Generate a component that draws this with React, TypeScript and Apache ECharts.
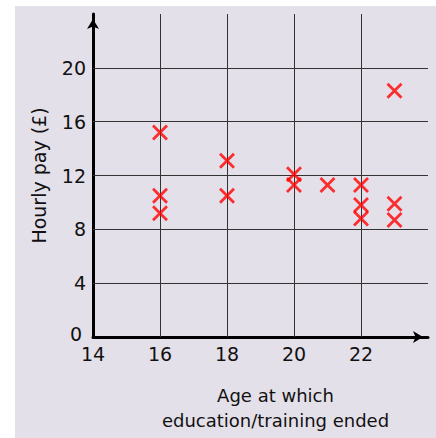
import React, { useEffect, useRef } from "react";
import * as echarts from "echarts";

const ages = [16, 16, 16, 18, 18, 20, 20, 21, 22, 22, 22, 23, 23, 23];
const pay = [15.2, 10.5, 9.2, 13.1, 10.5, 12.1, 11.3, 11.3, 11.3, 9.8, 8.8, 18.3, 9.9, 8.7];
const xGridValues = [16, 18, 20, 22];
const yGridValues = [4, 8, 12, 16, 20];
const xName = "Age at which\neducation/training ended";
const yName = "Hourly pay (£)";

const FONT = "DejaVu Sans";

export default function App() {
  const ref = useRef<HTMLDivElement>(null);
  useEffect(() => {
    if (!ref.current) return;
    const chart = echarts.init(ref.current, undefined, { renderer: "svg" });
    const points = ages.map((a, i) => [a, pay[i]]);
    chart.setOption({
      animation: false,
      backgroundColor: "#ffffff",
      graphic: [
        {
          type: "rect",
          left: 15,
          top: 6,
          shape: { width: 421, height: 440 },
          style: { fill: "#e4e0e9" },
          z: -10,
          silent: true,
        },
      ],
      grid: { left: 93, top: 14, width: 335, height: 328, containLabel: false },
      xAxis: {
        type: "value",
        min: 14,
        max: 24,
        interval: 2,
        name: xName,
        nameLocation: "middle",
        nameGap: 46,
        nameTextStyle: {
          fontFamily: FONT,
          fontSize: 18,
          color: "#111",
          lineHeight: 25,
          padding: [0, 0, 0, 30],
        },
        axisLine: {
          show: true,
          onZero: false,
          symbol: ["none", "arrow"],
          symbolSize: [9, 10],
          symbolOffset: [0, -5],
          lineStyle: { color: "#000", width: 3 },
        },
        axisTick: { show: false },
        splitLine: { show: false },
        axisLabel: {
          showMaxLabel: false,
          fontFamily: FONT,
          fontSize: 19,
          lineHeight: 17,
          color: "#111",
          margin: 8,
        },
      },
      yAxis: {
        type: "value",
        min: 0,
        max: 24,
        interval: 4,
        name: yName,
        nameLocation: "middle",
        nameGap: 45,
        nameTextStyle: { fontFamily: FONT, fontSize: 19, color: "#111" },
        axisLine: {
          show: true,
          onZero: false,
          symbol: ["none", "arrow"],
          symbolSize: [9, 10],
          symbolOffset: [0, -5],
          lineStyle: { color: "#000", width: 3 },
        },
        axisTick: { show: false },
        splitLine: { show: false },
        axisLabel: {
          showMaxLabel: false,
          fontFamily: FONT,
          fontSize: 19,
          lineHeight: 14,
          color: "#111",
          margin: 7,
          formatter: (v: number) => (v === 0 ? "{z|0}" : String(v)),
          rich: {
            z: {
              fontFamily: FONT,
              fontSize: 19,
              lineHeight: 14,
              color: "#111",
              padding: [0, 4, 6, 0],
            },
          },
        },
      },
      series: [
        {
          type: "line",
          data: [],
          z: 1,
          silent: true,
          markLine: {
            silent: true,
            symbol: ["none", "none"],
            label: { show: false },
            lineStyle: { color: "#333", width: 1, type: "solid" },
            emphasis: { disabled: true },
            data: [
              ...xGridValues.map((v) => ({ xAxis: v })),
              ...yGridValues.map((v) => ({ yAxis: v })),
            ],
          },
        },
        {
          type: "scatter",
          z: 5,
          data: points,
          symbol: "path://M0,0L10,10M10,0L0,10",
          symbolSize: 14,
          itemStyle: { color: "none", borderColor: "#ff0000", borderWidth: 2.8 },
          emphasis: { disabled: true },
        },
      ],
    });
    return () => chart.dispose();
  }, []);
  return (
    <div
      ref={ref}
      style={{ position: "fixed", left: 0, top: 0, width: 436, height: 438 }}
    />
  );
}
